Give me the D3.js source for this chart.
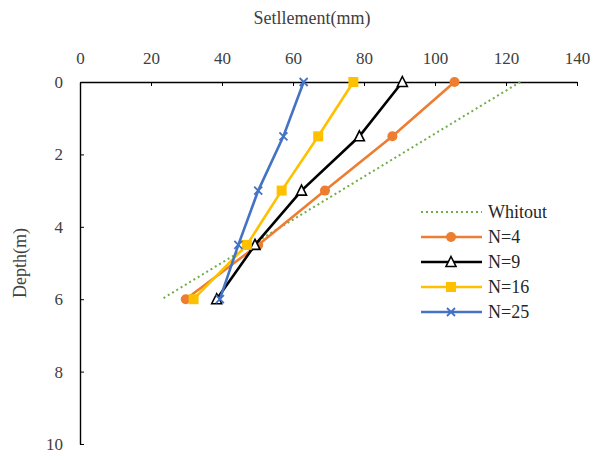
<!DOCTYPE html>
<meta charset="utf-8">
<head>
	<title>Settlement vs depth</title>
	<script src="https://cdnjs.cloudflare.com/ajax/libs/d3/7.8.5/d3.min.js"></script>
</head>
<style type="text/css">
	body { margin: 0; background: #fff; }
	svg { display: block; font-family: "Liberation Serif", "DejaVu Serif", serif; }
	.axis path, .axis line { stroke: #000; }
</style>
<body>
<div id=chart></div>
<script>
	// depths (m) at which settlement was read
	var depths = [0, 1.5, 3, 4.5, 6];

	var whitoutDepth = [0, 6];
	var whitout = [124, 23];

	var n4 = [105.5, 88, 69, 50.2, 29.8];
	var n9 = [90.8, 78.7, 62.4, 49.3, 38.5];
	var n16 = [77, 67.1, 56.8, 47, 32];
	var n25 = [63, 57.3, 50.2, 44.6, 39.4];

	var xTicks = [0, 20, 40, 60, 80, 100, 120, 140];
	var yTicks = [0, 2, 4, 6, 8, 10];

	var series = [
		{name: "N=4", vals: n4, color: "#ED7D31", marker: "circle"},
		{name: "N=9", vals: n9, color: "#000000", marker: "triangle"},
		{name: "N=16", vals: n16, color: "#FFC000", marker: "square"},
		{name: "N=25", vals: n25, color: "#4472C4", marker: "cross"}
	];

	var W = 592, H = 455;
	var margin = {top: 82, left: 80, right: 15, bottom: 11};

	var svg = d3.select("#chart").append("svg")
		.attr("width", W)
		.attr("height", H);

	var x = d3.scaleLinear().domain([0, 140]).range([margin.left, W - margin.right]);
	var y = d3.scaleLinear().domain([0, 10]).range([margin.top, H - margin.bottom]);

	// top x axis, ticks pointing into plot
	var xAxis = svg.append("g")
		.attr("class", "axis")
		.attr("transform", "translate(0," + margin.top + ")")
		.call(d3.axisTop(x).tickValues(xTicks).tickSizeInner(-4).tickSizeOuter(0).tickPadding(18));
	xAxis.select(".domain").attr("stroke-width", 1.4);

	var yAxis = svg.append("g")
		.attr("class", "axis")
		.attr("transform", "translate(" + margin.left + ",0)")
		.call(d3.axisLeft(y).tickValues(yTicks).tickSizeInner(-4).tickSizeOuter(0).tickPadding(17));
	yAxis.select(".domain").attr("stroke-width", 1.4);
	svg.selectAll(".tick text")
		.style("font-size", "17px")
		.attr("font-family", "Liberation Serif, serif")
		.attr("fill", "#404040");

	svg.append("text")
		.attr("x", 312)
		.attr("y", 24)
		.attr("text-anchor", "middle")
		.style("font-size", "18px")
		.attr("fill", "#404040")
		.text("Setllement(mm)");

	svg.append("text")
		.attr("transform", "translate(26," + ((margin.top + H - margin.bottom) / 2) + ") rotate(-90)")
		.attr("text-anchor", "middle")
		.style("font-size", "18px")
		.attr("fill", "#404040")
		.text("Depth(m)");

	var line = d3.line()
		.x(function(d) { return x(d[0]); })
		.y(function(d) { return y(d[1]); });

	// no-pile line
	svg.append("path")
		.datum(whitout.map(function(v, i) { return [v, whitoutDepth[i]]; }))
		.attr("d", line)
		.attr("fill", "none")
		.attr("stroke", "#70AD47")
		.attr("stroke-width", 2)
		.attr("stroke-dasharray", "2,3");

	function drawMarker(g, type, color) {
		if (type == "circle") {
			g.append("circle").attr("r", 5).attr("fill", color);
		} else if (type == "square") {
			g.append("rect").attr("x", -5).attr("y", -5).attr("width", 10).attr("height", 10).attr("fill", color);
		} else if (type == "triangle") {
			g.append("path").attr("d", "M0,-5.5L5,4.5L-5,4.5Z")
				.attr("fill", "#fff").attr("stroke", color).attr("stroke-width", 1.6);
		} else if (type == "cross") {
			g.append("path").attr("d", "M-4,-4L4,4M-4,4L4,-4")
				.attr("stroke", color).attr("stroke-width", 1.8);
		}
	}

	series.forEach(function(s) {
		var pts = s.vals.map(function(v, i) { return [v, depths[i]]; });
		svg.append("path")
			.datum(pts)
			.attr("d", line)
			.attr("fill", "none")
			.attr("stroke", s.color)
			.attr("stroke-width", 2.6);
		pts.forEach(function(p) {
			var g = svg.append("g").attr("transform", "translate(" + x(p[0]) + "," + y(p[1]) + ")");
			drawMarker(g, s.marker, s.color);
		});
	});

	// legend
	var legend = svg.append("g").attr("transform", "translate(421,212)");
	var legItems = [{name: "Whitout", color: "#70AD47", marker: null}].concat(series);
	legItems.forEach(function(s, i) {
		var g = legend.append("g").attr("transform", "translate(0," + (i * 25) + ")");
		var ln = g.append("line")
			.attr("x1", 0).attr("x2", 61)
			.attr("stroke", s.color);
		if (s.marker) {
			ln.attr("stroke-width", 2.6);
			drawMarker(g.append("g").attr("transform", "translate(30,0)"), s.marker, s.color);
		} else {
			ln.attr("stroke-width", 2).attr("stroke-dasharray", "2,3");
		}
		g.append("text")
			.attr("x", 67)
			.attr("dy", "0.35em")
			.style("font-size", "18px")
			.attr("fill", "#262626")
			.text(s.name);
	});
</script>
</body>
